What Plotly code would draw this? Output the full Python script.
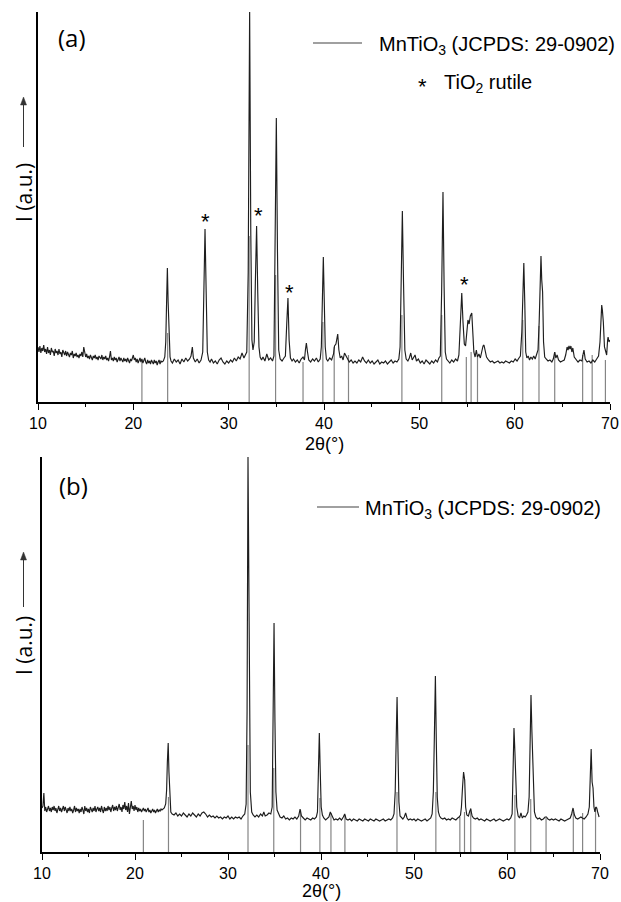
import plotly.graph_objects as go

# ---------------- data ----------------
# shared 2theta grid for the noisy low-angle region (10.0 - 22.9)
left_2theta = [
    10.0, 10.1, 10.2, 10.3, 10.4, 10.5, 10.6, 10.7, 10.8, 10.9,
    11.0, 11.1, 11.2, 11.3, 11.4, 11.5, 11.6, 11.7, 11.8, 11.9,
    12.0, 12.1, 12.2, 12.3, 12.4, 12.5, 12.6, 12.7, 12.8, 12.9,
    13.0, 13.1, 13.2, 13.3, 13.4, 13.5, 13.6, 13.7, 13.8, 13.9,
    14.0, 14.1, 14.2, 14.3, 14.4, 14.5, 14.6, 14.7, 14.8, 14.9,
    15.0, 15.1, 15.2, 15.3, 15.4, 15.5, 15.6, 15.7, 15.8, 15.9,
    16.0, 16.1, 16.2, 16.3, 16.4, 16.5, 16.6, 16.7, 16.8, 16.9,
    17.0, 17.1, 17.2, 17.3, 17.4, 17.5, 17.6, 17.7, 17.8, 17.9,
    18.0, 18.1, 18.2, 18.3, 18.4, 18.5, 18.6, 18.7, 18.8, 18.9,
    19.0, 19.1, 19.2, 19.3, 19.4, 19.5, 19.6, 19.7, 19.8, 19.9,
    20.0, 20.1, 20.2, 20.3, 20.4, 20.5, 20.6, 20.7, 20.8, 20.9,
    21.0, 21.1, 21.2, 21.3, 21.4, 21.5, 21.6, 21.7, 21.8, 21.9,
    22.0, 22.1, 22.2, 22.3, 22.4, 22.5, 22.6, 22.7, 22.8, 22.9,
]

# panel (a) intensity on the low-angle grid
a_left_int = [
    55, 50, 56, 49, 54, 51, 57, 50, 53, 48,
    55, 49, 52, 47, 54, 50, 51, 46, 53, 49,
    51, 47, 53, 48, 50, 45, 52, 49, 47, 51,
    46, 50, 48, 45, 49, 47, 51, 44, 48, 46,
    49, 45, 47, 44, 48, 46, 50, 45, 55, 47,
    45, 48, 44, 46, 43, 47, 45, 42, 46, 44,
    47, 43, 45, 42, 46, 44, 43, 47, 42, 45,
    43, 46, 42, 44, 41, 45, 51, 42, 44, 41,
    45, 42, 44, 40, 43, 45, 41, 44, 42, 40,
    44, 41, 43, 40, 44, 42, 39, 43, 41, 44,
    47, 42, 44, 40, 43, 39, 42, 44, 40, 43,
    39, 42, 44, 40, 38, 42, 39, 41, 38, 42,
    40, 38, 42, 39, 41, 37, 40, 42, 38, 41,
]

# panel (a) 23 - 70 degrees
a_right_2theta = [
    23.0, 23.15, 23.3, 23.4, 23.5, 23.57, 23.65, 23.75, 23.85, 23.95,
    24.1, 24.3, 24.5, 24.7, 24.9, 25.1, 25.3, 25.5, 25.7, 25.9,
    26.05, 26.19, 26.3, 26.5, 26.7, 26.9, 27.1, 27.28, 27.4, 27.52,
    27.64, 27.76, 27.9, 28.05, 28.2, 28.4, 28.6, 28.8, 29.0, 29.2,
    29.4, 29.6, 29.8, 30.0, 30.2, 30.4, 30.6, 30.8, 31.0, 31.2,
    31.4, 31.6, 31.75, 31.9, 32.05, 32.2, 32.32, 32.44, 32.55, 32.68,
    32.8, 32.93, 33.05, 33.18, 33.3, 33.45, 33.6, 33.8, 34.0, 34.2,
    34.4, 34.6, 34.75, 34.87, 35.0, 35.12, 35.25, 35.4, 35.6, 35.8,
    35.95, 36.1, 36.22, 36.34, 36.48, 36.65, 36.8, 37.0, 37.2, 37.4,
    37.6, 37.8, 37.95, 38.05, 38.15, 38.27, 38.4, 38.6, 38.8, 39.0,
    39.2, 39.4, 39.6, 39.72, 39.83, 39.93, 40.03, 40.13, 40.25, 40.4,
    40.6, 40.8, 41.0, 41.1, 41.25, 41.36, 41.44, 41.56, 41.7, 41.85,
    42.0, 42.15, 42.3, 42.45, 42.65, 42.85, 43.05, 43.25, 43.45, 43.65,
    43.85, 44.05, 44.25, 44.45, 44.65, 44.85, 45.05, 45.25, 45.45, 45.65,
    45.85, 46.05, 46.25, 46.45, 46.65, 46.85, 47.05, 47.25, 47.45, 47.65,
    47.85, 47.98, 48.1, 48.22, 48.34, 48.48, 48.62, 48.8, 48.95, 49.1,
    49.25, 49.4, 49.55, 49.7, 49.9, 50.1, 50.3, 50.5, 50.7, 50.9,
    51.1, 51.3, 51.5, 51.7, 51.9, 52.05, 52.2, 52.34, 52.48, 52.6,
    52.72, 52.85, 53.0, 53.2, 53.4, 53.6, 53.8, 54.0, 54.15, 54.3,
    54.45, 54.58, 54.72, 54.85, 54.97, 55.1, 55.22, 55.35, 55.5, 55.6,
    55.72, 55.85, 55.98, 56.1, 56.25, 56.4, 56.55, 56.68, 56.78, 56.9,
    57.05, 57.25, 57.45, 57.65, 57.85, 58.05, 58.25, 58.45, 58.65, 58.85,
    59.05, 59.25, 59.45, 59.65, 59.85, 60.05, 60.25, 60.45, 60.6, 60.75,
    60.86, 60.96, 61.06, 61.16, 61.28, 61.42, 61.56, 61.7, 61.85, 62.0,
    62.15, 62.3, 62.45, 62.57, 62.67, 62.76, 62.84, 62.93, 63.03, 63.15,
    63.3, 63.5, 63.7, 63.9, 64.05, 64.2, 64.32, 64.45, 64.6, 64.8,
    65.0, 65.2, 65.35, 65.5, 65.6, 65.7, 65.8, 65.9, 66.0, 66.1,
    66.25, 66.45, 66.65, 66.85, 67.05, 67.18, 67.27, 67.4, 67.6, 67.8,
    68.0, 68.2, 68.4, 68.6, 68.8, 68.95, 69.05, 69.13, 69.2, 69.3,
    69.42, 69.55, 69.65, 69.75, 69.8, 69.9, 69.97,
]
a_right_int = [
    40, 41, 45, 60, 105, 134, 100, 60, 45, 41,
    39, 43, 40, 42, 38, 43, 40, 44, 41, 43,
    46, 55, 44, 40, 43, 39, 42, 50, 115, 173,
    110, 50, 42, 40, 43, 39, 41, 38, 42, 44,
    40, 38, 41, 39, 42, 40, 44, 41, 45, 43,
    49, 44, 47, 50, 130, 392, 170, 62, 52, 60,
    120, 176, 110, 55, 45, 42, 45, 41, 48, 42,
    44, 41, 46, 150, 284, 150, 52, 43, 41, 44,
    46, 80, 104, 62, 44, 41, 43, 40, 42, 39,
    43, 45, 42, 52, 59, 50, 42, 40, 43, 41,
    44, 40, 43, 55, 110, 145, 100, 55, 43, 41,
    44, 42, 48, 56, 58, 64, 68, 52, 44, 46,
    42, 49, 46, 43, 40, 42, 39, 41, 39, 42,
    40, 45, 41, 39, 42, 39, 41, 38, 40, 42,
    38, 40, 39, 41, 38, 40, 42, 39, 41, 40,
    43, 55, 120, 191, 120, 52, 43, 41, 44, 49,
    42, 45, 47, 41, 43, 39, 41, 38, 42, 40,
    38, 41, 39, 42, 40, 44, 46, 110, 210, 115,
    50, 43, 41, 39, 42, 40, 43, 41, 47, 75,
    109, 80, 58, 56, 70, 82, 78, 86, 89, 70,
    50, 45, 52, 45, 48, 44, 52, 56, 57, 52,
    45, 42, 40, 41, 39, 40, 41, 39, 40, 39,
    41, 40, 39, 41, 40, 43, 41, 44, 46, 70,
    110, 139, 100, 50, 44, 46, 42, 45, 43, 46,
    43, 47, 52, 80, 125, 146, 122, 110, 60, 45,
    43, 41, 42, 40, 43, 50, 44, 47, 42, 40,
    41, 42, 47, 55, 52, 56, 53, 56, 50, 54,
    45, 42, 40, 42, 41, 48, 52, 43, 40, 41,
    39, 42, 40, 43, 46, 60, 85, 97, 92, 80,
    55, 50, 47, 62, 65, 60, 62,
]

# panel (b) intensity on the low-angle grid
b_left_int = [
    44, 46, 59, 41, 45, 40, 43, 46, 41, 44,
    40, 45, 42, 46, 41, 44, 39, 43, 46, 41,
    44, 40, 43, 46, 41, 45, 42, 39, 44, 41,
    45, 41, 43, 39, 42, 46, 40, 44, 41, 43,
    39, 43, 40, 45, 42, 38, 46, 41, 44, 40,
    43, 39, 45, 42, 40, 44, 41, 46, 40, 43,
    45, 41, 44, 40, 46, 42, 39, 45, 41, 44,
    41, 46, 42, 45, 40, 44, 47, 41, 45, 42,
    46, 41, 44, 48, 42, 45, 40, 47, 43, 50,
    42, 46, 40, 49, 38, 47, 51, 43, 46, 41,
    47, 42, 45, 40, 44, 41, 43, 40, 42, 44,
    41, 43, 40, 42, 44, 40, 42, 39, 41, 43,
    40, 42, 39, 41, 43, 40, 42, 41, 43, 42,
]

# panel (b) 23 - 70 degrees
b_right_2theta = [
    23.0, 23.15, 23.3, 23.4, 23.48, 23.57, 23.65, 23.75, 23.85, 24.0,
    24.2, 24.4, 24.6, 24.8, 25.0, 25.2, 25.4, 25.6, 25.8, 26.0,
    26.2, 26.4, 26.6, 26.8, 27.0, 27.2, 27.4, 27.6, 27.8, 28.0,
    28.2, 28.4, 28.6, 28.8, 29.0, 29.2, 29.4, 29.6, 29.8, 30.0,
    30.2, 30.4, 30.6, 30.8, 31.0, 31.2, 31.4, 31.6, 31.8, 31.95,
    32.05, 32.15, 32.27, 32.4, 32.55, 32.7, 32.9, 33.1, 33.3, 33.5,
    33.7, 33.85, 34.0, 34.2, 34.4, 34.6, 34.75, 34.85, 34.95, 35.05,
    35.15, 35.28, 35.45, 35.6, 35.8, 36.0, 36.2, 36.4, 36.6, 36.8,
    37.0, 37.2, 37.4, 37.6, 37.75, 37.9, 38.1, 38.3, 38.5, 38.7,
    38.9, 39.1, 39.3, 39.5, 39.62, 39.72, 39.82, 39.92, 40.02, 40.15,
    40.3, 40.5, 40.7, 40.85, 41.0, 41.1, 41.25, 41.4, 41.6, 41.8,
    42.0, 42.2, 42.4, 42.55, 42.7, 42.9, 43.1, 43.3, 43.5, 43.7,
    43.9, 44.1, 44.3, 44.5, 44.7, 44.9, 45.1, 45.3, 45.5, 45.7,
    45.9, 46.1, 46.3, 46.5, 46.7, 46.9, 47.1, 47.3, 47.5, 47.7,
    47.85, 47.98, 48.08, 48.18, 48.28, 48.38, 48.5, 48.65, 48.8, 48.95,
    49.1, 49.25, 49.4, 49.6, 49.8, 50.0, 50.2, 50.4, 50.6, 50.8,
    51.0, 51.2, 51.4, 51.6, 51.8, 51.95, 52.08, 52.18, 52.3, 52.4,
    52.5, 52.62, 52.75, 52.9, 53.1, 53.3, 53.5, 53.7, 53.9, 54.1,
    54.3, 54.5, 54.7, 54.85, 55.0, 55.1, 55.22, 55.33, 55.45, 55.55,
    55.68, 55.85, 56.0, 56.1, 56.25, 56.4, 56.6, 56.8, 57.0, 57.2,
    57.4, 57.6, 57.8, 58.0, 58.2, 58.4, 58.6, 58.8, 59.0, 59.2,
    59.4, 59.6, 59.8, 60.0, 60.2, 60.4, 60.55, 60.65, 60.75, 60.85,
    60.95, 61.05, 61.2, 61.35, 61.5, 61.65, 61.8, 61.95, 62.1, 62.25,
    62.38, 62.48, 62.58, 62.68, 62.75, 62.85, 62.95, 63.1, 63.3, 63.5,
    63.7, 63.9, 64.1, 64.25, 64.4, 64.6, 64.8, 65.0, 65.2, 65.4,
    65.6, 65.8, 66.0, 66.2, 66.4, 66.6, 66.8, 66.95, 67.1, 67.25,
    67.4, 67.6, 67.8, 67.95, 68.1, 68.3, 68.5, 68.7, 68.85, 68.95,
    69.05, 69.15, 69.25, 69.35, 69.45, 69.55, 69.65, 69.75, 69.9,
]
b_right_int = [
    43, 44, 48, 62, 90, 109, 80, 50, 40, 38,
    37, 39, 36, 38, 36, 39, 37, 35, 38, 36,
    39, 37, 35, 38, 36, 39, 40, 38, 35, 37,
    35, 36, 34, 36, 34, 35, 33, 35, 34, 36,
    33, 35, 33, 35, 34, 35, 33, 36, 38, 48,
    140, 395, 160, 60, 40, 37, 35, 37, 35, 38,
    36, 40, 36, 37, 39, 38, 45, 120, 229, 130,
    60, 42, 37, 35, 34, 36, 33, 34, 32, 34,
    33, 35, 33, 36, 43, 36, 34, 32, 34, 33,
    32, 34, 33, 35, 40, 80, 119, 80, 45, 37,
    34, 32, 34, 35, 40, 38, 34, 32, 33, 32,
    34, 32, 35, 38, 33, 32, 33, 31, 33, 32,
    31, 33, 32, 31, 33, 32, 31, 33, 32, 31,
    33, 32, 31, 32, 33, 31, 32, 33, 32, 34,
    38, 60, 110, 155, 100, 50, 36, 34, 33, 35,
    39, 34, 32, 33, 32, 33, 31, 33, 32, 31,
    32, 33, 31, 33, 34, 38, 60, 110, 176, 110,
    55, 40, 36, 34, 33, 34, 32, 33, 32, 34,
    33, 32, 34, 35, 37, 45, 65, 80, 72, 45,
    37, 36, 41, 43, 36, 34, 33, 34, 32, 33,
    32, 31, 33, 32, 31, 32, 33, 31, 32, 33,
    32, 31, 32, 33, 32, 34, 38, 70, 124, 100,
    80, 45, 36, 34, 39, 34, 36, 35, 37, 40,
    55, 100, 157, 120, 99, 55, 40, 35, 33, 34,
    32, 33, 35, 35, 33, 32, 33, 32, 33, 32,
    31, 33, 32, 31, 32, 33, 34, 38, 44, 37,
    34, 33, 34, 35, 34, 33, 35, 38, 45, 80,
    103, 70, 64, 45, 40, 45, 44, 40, 35,
]

# MnTiO3 reference lines (JCPDS 29-0902)
ref_2theta = [20.9, 23.6, 32.15, 34.92, 37.8, 39.88, 41.07, 42.57, 48.17, 52.35,
              54.93, 55.43, 56.1, 60.85, 62.55, 64.2, 67.13, 68.13, 69.52]
ref_height_a = [40, 69, 166, 127, 40, 80, 55, 47, 87, 87,
                45, 50, 47, 82, 76, 50, 47, 47, 42]
ref_height_b = [32, 55, 107, 84, 42, 54, 39, 37, 60, 60,
                35, 40, 44, 57, 53, 34, 40, 39, 45]

# TiO2 rutile marks in panel (a)
rutile_2theta = [27.62, 33.1, 36.36, 54.69]
rutile_mark_y = [187, 193, 116, 124]

x_ticks = [10, 20, 30, 40, 50, 60, 70]

# ---------------- figure ----------------
W, H = 621, 902
FONT = "Liberation Sans, Arial, sans-serif"
FONT2 = "Open Sans, sans-serif"

def px(x):
    return x / W

def py(y):
    return 1 - y / H

def stick_xy(xs, hs):
    X, Y = [], []
    for x, h in zip(xs, hs):
        X += [x, x, None]
        Y += [0, h, None]
    return X, Y

fig = go.Figure()

for xa, ya, hs, xs_p, ys_p in [
    ("x", "y", ref_height_a, left_2theta + a_right_2theta, a_left_int + a_right_int),
    ("x2", "y2", ref_height_b, left_2theta + b_right_2theta, b_left_int + b_right_int),
]:
    sx, sy = stick_xy(ref_2theta, hs)
    fig.add_trace(go.Scatter(x=sx, y=sy, mode="lines", xaxis=xa, yaxis=ya,
                             line=dict(color="#858585", width=1.2),
                             hoverinfo="skip", showlegend=False))
    fig.add_trace(go.Scatter(x=xs_p, y=ys_p, mode="lines", xaxis=xa, yaxis=ya,
                             line=dict(color="#1e1e1e", width=1.15),
                             showlegend=False))

def xaxis_cfg(domain, anchor):
    return dict(domain=domain, anchor=anchor, range=[10, 70], automargin=False,
                showline=True, linecolor="black", linewidth=1.5,
                ticks="outside", ticklen=6, tickwidth=1.3, tickcolor="black",
                tickvals=x_ticks, ticktext=[str(t) for t in x_ticks],
                minor=dict(ticks="outside", ticklen=3.5, tickwidth=1,
                           tickcolor="black", dtick=5, tick0=10),
                showgrid=False, zeroline=False,
                tickfont=dict(family=FONT, size=16, color="black"))

def yaxis_cfg(domain, anchor, top):
    return dict(domain=domain, anchor=anchor, range=[0, top], automargin=False,
                showline=True, linecolor="black", linewidth=1.5,
                showticklabels=False, ticks="", showgrid=False, zeroline=False)

fig.update_layout(
    template="none",
    width=W, height=H, margin=dict(l=0, r=0, t=0, b=0, pad=0),
    paper_bgcolor="white", plot_bgcolor="white", showlegend=False,
    xaxis=xaxis_cfg([px(38), px(610)], "y"),
    yaxis=yaxis_cfg([py(402), py(12)], "x", 390),
    xaxis2=xaxis_cfg([px(42), px(600)], "y2"),
    yaxis2=yaxis_cfg([py(852), py(457)], "x2", 395),
)

def note(text, x, y, size, family=FONT, xanchor="center", **kw):
    d = dict(text=text, x=px(x), y=py(y), xref="paper", yref="paper",
             xanchor=xanchor, yanchor="middle", showarrow=False,
             font=dict(family=family, size=size, color="black"))
    d.update(kw)
    return d

ann = []
shapes = []
# panel letters
ann.append(note("(a)", 72, 37, 24, FONT2))
ann.append(note("(b)", 73, 485, 24, FONT2))
# y titles with arrows (arrow drawn as line + small triangle)
for yc, yhead, ytail in [(193, 97, 147), (646, 552, 607)]:
    ann.append(note("I (a.u.)", 24, yc, 21, FONT2, textangle=-90))
    xa_ = 23.5
    shapes.append(dict(type="line", xref="paper", yref="paper",
                       x0=px(xa_), x1=px(xa_), y0=py(ytail), y1=py(yhead + 6),
                       line=dict(color="#333", width=1)))
    shapes.append(dict(type="path", xref="paper", yref="paper",
                       path=(f"M {px(xa_ - 3)} {py(yhead + 8)} L {px(xa_)} {py(yhead)} "
                             f"L {px(xa_ + 3)} {py(yhead + 8)} Z"),
                       fillcolor="#333", line=dict(color="#333", width=0.5)))
# x titles
ann.append(note("2θ(°)", (38 + 610) / 2, 444, 18))
ann.append(note("2θ(°)", (42 + 600) / 2, 891, 18))
# legends
ann.append(note("MnTiO<sub>3</sub> (JCPDS: 29-0902)", 377, 45, 20, xanchor="left"))
ann.append(note("*", 422, 86, 22))
ann.append(note("TiO<sub>2</sub> rutile", 442, 83, 20, xanchor="left"))
ann.append(note("MnTiO<sub>3</sub> (JCPDS: 29-0902)", 363, 509, 20, xanchor="left"))
# rutile asterisks
for xr, yr in zip(rutile_2theta, rutile_mark_y):
    ann.append(dict(text="*", x=xr, y=yr, xref="x", yref="y", showarrow=False,
                    xanchor="center", yanchor="middle", yshift=-6,
                    font=dict(family=FONT, size=22, color="black")))

shapes += [
    dict(type="line", xref="paper", yref="paper", x0=px(313), x1=px(362),
         y0=py(43), y1=py(43), line=dict(color="#808080", width=1.5)),
    dict(type="line", xref="paper", yref="paper", x0=px(317), x1=px(359),
         y0=py(507), y1=py(507), line=dict(color="#808080", width=1.5)),
]

fig.update_layout(annotations=ann, shapes=shapes)

fig.write_html("out.html", config={"displayModeBar": False},
               post_script="document.body.style.margin='0';")
